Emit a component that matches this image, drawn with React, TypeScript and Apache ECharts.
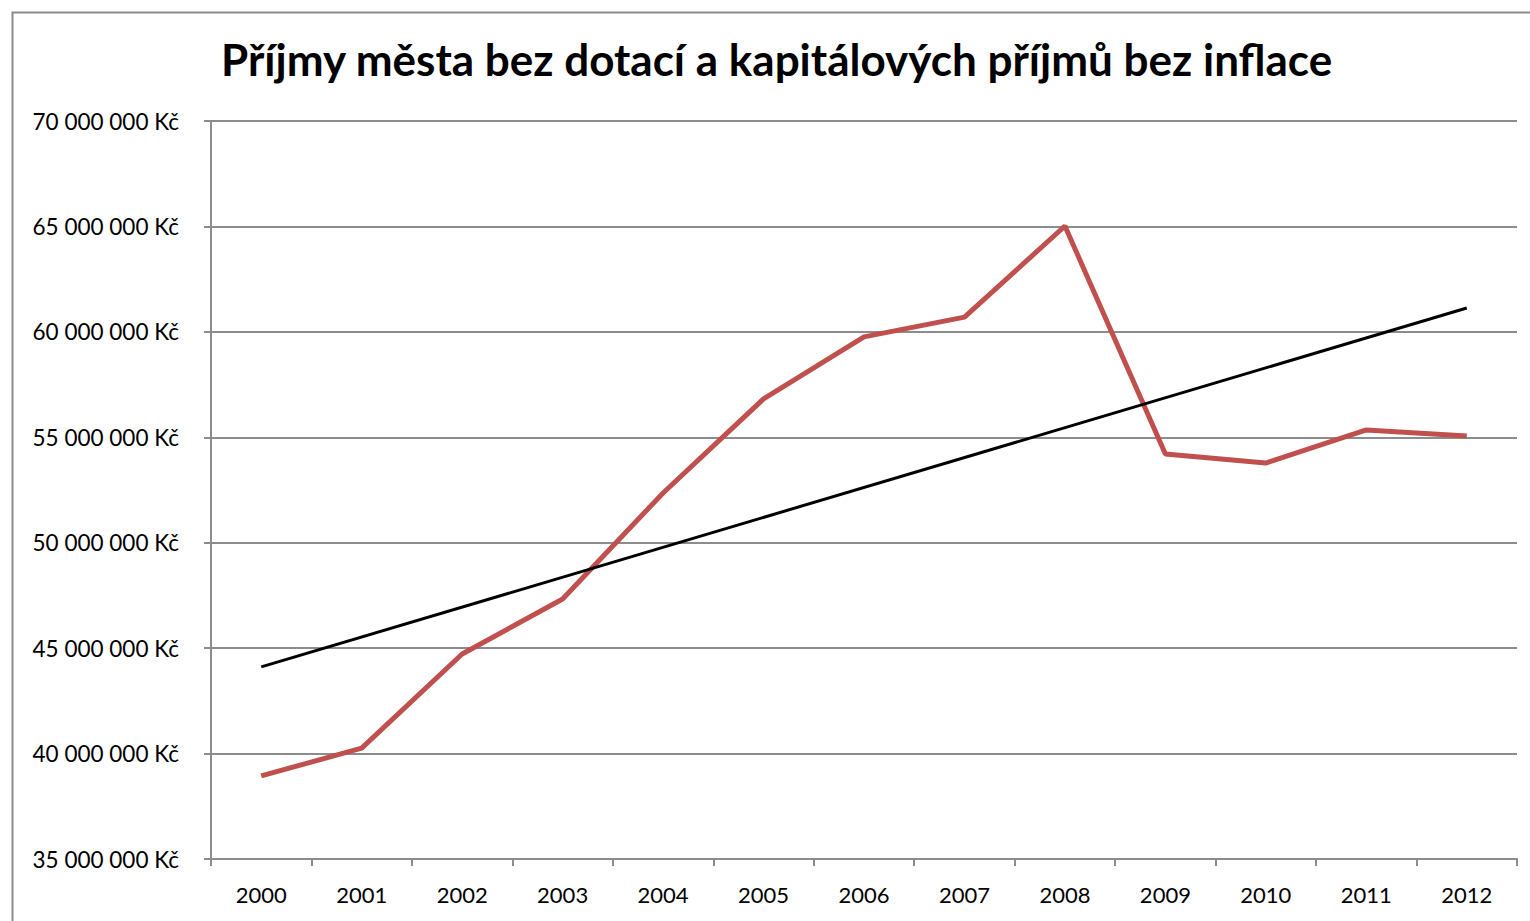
import React, { useEffect, useRef } from "react";
import * as echarts from "echarts";

const years = ["2000", "2001", "2002", "2003", "2004", "2005", "2006", "2007", "2008", "2009", "2010", "2011", "2012"];
const revenue = [38940000, 40260000, 44720000, 47330000, 52360000, 56820000, 59760000, 60700000, 65020000, 54210000, 53780000, 55350000, 55060000];
const trend = [44110000, null, null, null, null, null, null, null, null, null, null, null, 61130000];
const yMin = 35000000;
const yMax = 70000000;
const yStep = 5000000;
const titleText = "Příjmy města bez dotací a kapitálových příjmů bez inflace";

const fmt = (v: number) => {
  const s = String(Math.round(v));
  return s.replace(/\B(?=(\d{3})+(?!\d))/g, " ") + " Kč";
};

export default function App() {
  const ref = useRef<HTMLDivElement>(null);
  useEffect(() => {
    if (!ref.current) return;
    const chart = echarts.init(ref.current, null, { renderer: "svg" });
    const font = "Lato, 'Open Sans', sans-serif";
    chart.setOption({
      animation: false,
      backgroundColor: "#ffffff",
      title: {
        text: titleText,
        left: 216,
        top: 32,
        textStyle: { fontFamily: font, fontWeight: "bold", fontSize: 44, color: "#000" },
      },
      graphic: [
        {
          type: "rect",
          left: 10,
          top: 10,
          shape: { x: 0, y: 0, width: 1540, height: 940 },
          style: { fill: "none", stroke: "#8c8c8c", lineWidth: 2 },
          silent: true,
          z: -1,
        },
      ],
      grid: { left: 211, top: 121, right: 13, bottom: 62, containLabel: false },
      xAxis: {
        type: "category",
        data: years,
        boundaryGap: true,
        axisLine: { lineStyle: { color: "#8c8c8c", width: 2 } },
        axisTick: { show: true, length: 7, lineStyle: { color: "#8c8c8c", width: 2 } },
        axisLabel: { fontFamily: font, fontSize: 22, color: "#000", margin: 24 },
        splitLine: { show: false },
      },
      yAxis: {
        type: "value",
        min: yMin,
        max: yMax,
        interval: yStep,
        axisLine: { show: true, lineStyle: { color: "#8c8c8c", width: 2 } },
        axisTick: { show: true, length: 7, lineStyle: { color: "#8c8c8c", width: 2 } },
        axisLabel: { fontFamily: font, fontSize: 22.5, color: "#000", margin: 32, formatter: fmt },
        splitLine: { show: true, lineStyle: { color: "#8c8c8c", width: 2 } },
      },
      series: [
        {
          type: "line",
          name: "Příjmy",
          data: revenue,
          symbol: "none",
          lineStyle: { color: "#C0504D", width: 5 },
          itemStyle: { color: "#C0504D" },
          z: 3,
        },
        {
          type: "line",
          name: "Trend",
          data: trend,
          connectNulls: true,
          symbol: "none",
          lineStyle: { color: "#000000", width: 3 },
          itemStyle: { color: "#000" },
          z: 4,
        },
      ],
    });
    return () => chart.dispose();
  }, []);
  return <div ref={ref} style={{ position: "fixed", left: 0, top: 0, width: 1530, height: 921 }} />;
}
